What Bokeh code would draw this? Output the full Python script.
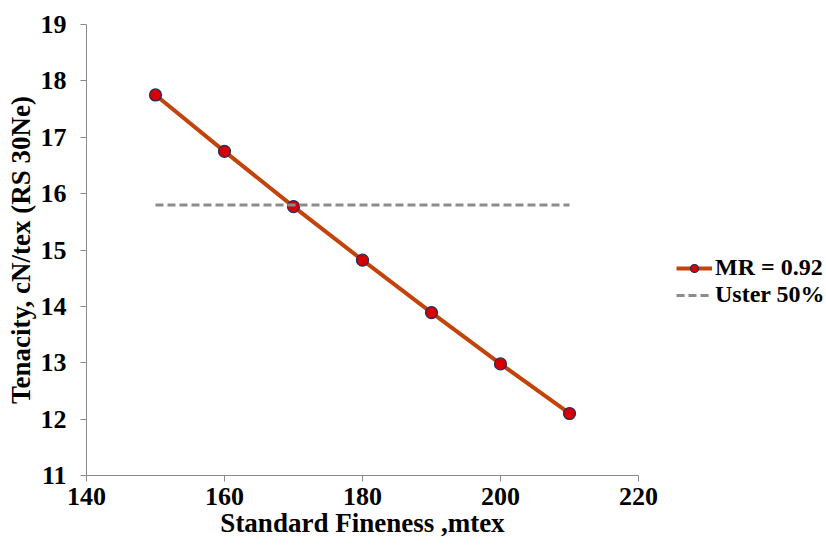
from bokeh.plotting import figure
from bokeh.models import Range1d, Legend, LegendItem, FixedTicker
from bokeh.embed import file_html
from bokeh.resources import INLINE

fineness = [150, 160, 170, 180, 190, 200, 210]
tenacity = [17.75, 16.75, 15.77, 14.82, 13.89, 12.98, 12.10]
uster_x = [150, 210]
uster_y = [15.8, 15.8]
x_ticks = [140, 160, 180, 200, 220]
y_ticks = [11, 12, 13, 14, 15, 16, 17, 18, 19]

FONT = "'Liberation Serif', serif"

p = figure(frame_width=552, frame_height=451, output_backend="svg", toolbar_location=None,
           x_range=Range1d(140, 220), y_range=Range1d(11, 19),
           min_border_left=86, min_border_right=0, min_border_top=24, min_border_bottom=50)
p.outline_line_color = None
p.grid.visible = False

r_line = p.line(fineness, tenacity, line_color="#C2440A", line_width=4)
r_pts = p.scatter(fineness, tenacity, size=12, fill_color="#D50000", line_color="#1F2F5F", line_width=1.2)
r_dash = p.line(uster_x, uster_y, line_color="#8C8C8C", line_width=3, line_dash="8 4")

for ax in (p.xaxis[0], p.yaxis[0]):
    ax.axis_line_color = "#8A8A8A"
    ax.major_tick_line_color = "#8A8A8A"
    ax.major_tick_out = 6
    ax.major_tick_in = 0
    ax.minor_tick_line_color = None
    ax.major_label_text_font = FONT
    ax.major_label_text_font_style = "bold"
    ax.major_label_text_font_size = "26px"
    ax.major_label_text_color = "black"
    ax.axis_label_text_font = FONT
    ax.axis_label_text_font_style = "bold"
    ax.axis_label_text_font_size = "27px"
    ax.axis_label_text_color = "black"

p.xaxis.ticker = FixedTicker(ticks=x_ticks)
p.yaxis.ticker = FixedTicker(ticks=y_ticks)
p.xaxis.axis_label = "Standard Fineness ,mtex"
p.yaxis.axis_label = "Tenacity, cN/tex (RS 30Ne)"
p.xaxis.major_label_standoff = 6
p.yaxis.major_label_standoff = 14
p.xaxis.axis_label_standoff = 0
p.yaxis.axis_label_standoff = 2

legend = Legend(items=[LegendItem(label="MR = 0.92", renderers=[r_line, r_pts]),
                       LegendItem(label="Uster 50%", renderers=[r_dash])],
                location=(38, 167), border_line_color=None, background_fill_alpha=0,
                padding=0, spacing=0, glyph_width=36, glyph_height=20, label_height=20,
                label_standoff=3, label_text_font=FONT, label_text_font_style="bold",
                label_text_font_size="24px", label_text_color="black")
p.add_layout(legend, "right")

open("out.html", "w").write(file_html(p, INLINE))
